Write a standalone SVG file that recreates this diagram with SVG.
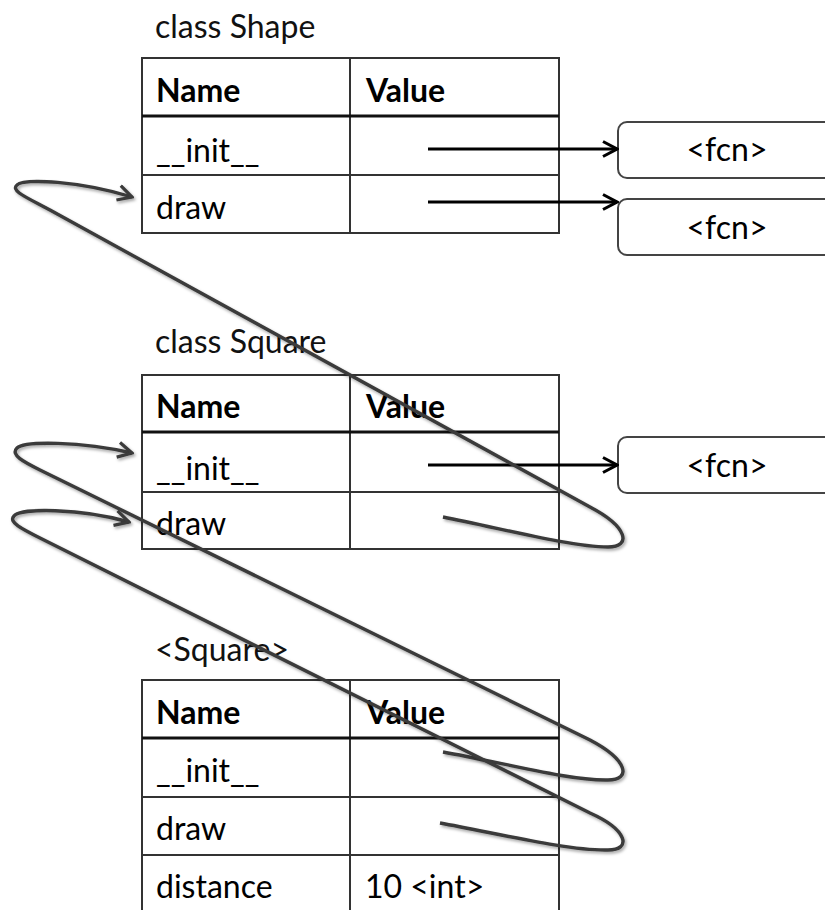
<svg xmlns="http://www.w3.org/2000/svg" width="825" height="910" viewBox="0 0 825 910">
<style>
  text { font-family: Lato, "Liberation Sans", sans-serif; font-size: 32px; fill: #000; }
  .b { font-weight: bold; }
  .title { fill: #111; }
  .grid { stroke: #333; stroke-width: 2; fill: none; }
  .hdr { stroke: #111; stroke-width: 3; }
  .box { stroke: #444; stroke-width: 2; fill: #fff; }
  .fcn { text-anchor: middle; }
  .ptr { stroke: #000; stroke-width: 3; fill: none; }
  .link { stroke: #3a3a3a; stroke-width: 3.4; fill: none; filter: url(#sh); }
</style>
<defs>
  <filter id="sh" x="-10%" y="-10%" width="120%" height="130%">
    <feDropShadow dx="1.5" dy="2" stdDeviation="1.5" flood-color="#000" flood-opacity="0.35"/>
  </filter>
  <marker id="ah" markerUnits="userSpaceOnUse" viewBox="0 0 18 18" refX="16" refY="9" markerWidth="18" markerHeight="18" orient="auto">
    <path d="M2,1.5 L16,9 L2,16.5" stroke="#000" stroke-width="3" fill="none" stroke-linejoin="miter"/>
  </marker>
  <marker id="ag" markerUnits="userSpaceOnUse" viewBox="0 0 18 18" refX="16" refY="9" markerWidth="18" markerHeight="18" orient="auto">
    <path d="M2,1.5 L16,9 L2,16.5" stroke="#3a3a3a" stroke-width="3.2" fill="none"/>
  </marker>
</defs>
<rect width="825" height="910" fill="#fff"/>

<g id="table-shape">
  <text class="title" x="155" y="38">class Shape</text>
  <rect class="grid" x="142" y="58" width="417" height="175"/>
  <line class="grid" x1="350" y1="58" x2="350" y2="233"/>
  <line class="grid hdr" x1="142" y1="116" x2="559" y2="116"/>
  <line class="grid" x1="142" y1="175" x2="559" y2="175"/>
  <text class="b" x="156" y="102">Name</text>
  <text class="b" x="366" y="102">Value</text>
  <text x="156" y="162">__init__</text>
  <text x="156" y="219">draw</text>
</g>

<g id="table-square">
  <text class="title" x="155" y="353">class Square</text>
  <rect class="grid" x="142" y="375" width="417" height="174"/>
  <line class="grid" x1="350" y1="375" x2="350" y2="549"/>
  <line class="grid hdr" x1="142" y1="432" x2="559" y2="432"/>
  <line class="grid" x1="142" y1="492" x2="559" y2="492"/>
  <text class="b" x="156" y="418">Name</text>
  <text class="b" x="366" y="418">Value</text>
  <text x="156" y="480">__init__</text>
  <text x="156" y="535">draw</text>
</g>

<g id="table-instance">
  <text class="title" x="155" y="661">&lt;Square&gt;</text>
  <path class="grid" d="M142,914 V680 H559 V914"/>
  <line class="grid" x1="350" y1="680" x2="350" y2="914"/>
  <line class="grid hdr" x1="142" y1="738" x2="559" y2="738"/>
  <line class="grid" x1="142" y1="797" x2="559" y2="797"/>
  <line class="grid" x1="142" y1="855" x2="559" y2="855"/>
  <text class="b" x="156" y="724">Name</text>
  <text class="b" x="366" y="724">Value</text>
  <text x="156" y="782">__init__</text>
  <text x="156" y="840">draw</text>
  <text x="156" y="898">distance</text>
  <text x="365" y="898">10 &lt;int&gt;</text>
</g>

<g id="fcn-shape-init">
  <rect class="box" x="618" y="122" width="240" height="56" rx="9"/>
  <text class="fcn" x="727" y="161">&lt;fcn&gt;</text>
</g>
<g id="fcn-shape-draw">
  <rect class="box" x="618" y="199" width="240" height="56" rx="9"/>
  <text class="fcn" x="727" y="239">&lt;fcn&gt;</text>
</g>
<g id="fcn-square-init">
  <rect class="box" x="618" y="437" width="240" height="56" rx="9"/>
  <text class="fcn" x="727" y="477">&lt;fcn&gt;</text>
</g>

<g id="connectors">
  <line class="ptr" x1="428" y1="149" x2="617" y2="149" marker-end="url(#ah)"/>
  <line class="ptr" x1="428" y1="202" x2="617" y2="202" marker-end="url(#ah)"/>
  <line class="ptr" x1="428" y1="465" x2="617" y2="465" marker-end="url(#ah)"/>

  <path class="link" marker-end="url(#ag)" d="M443,517 C500,528 570,547 608,547 C632,547 628,527 590,507 L50,210 C28,198 10,191 17,185 C24,178 80,181 132,197"/>
  <path class="link" marker-end="url(#ag)" d="M443,752 C500,762 570,781 608,780 C632,780 628,760 590,740 L40,470 C24,462 10,455 17,448 C24,441 80,441 132,453"/>
  <path class="link" marker-end="url(#ag)" d="M440,823 C500,834 570,851 608,850 C632,850 628,830 590,813 L40,538 C22,529 8,522 14,516 C20,508 80,508 129,522"/>
</g>
</svg>
